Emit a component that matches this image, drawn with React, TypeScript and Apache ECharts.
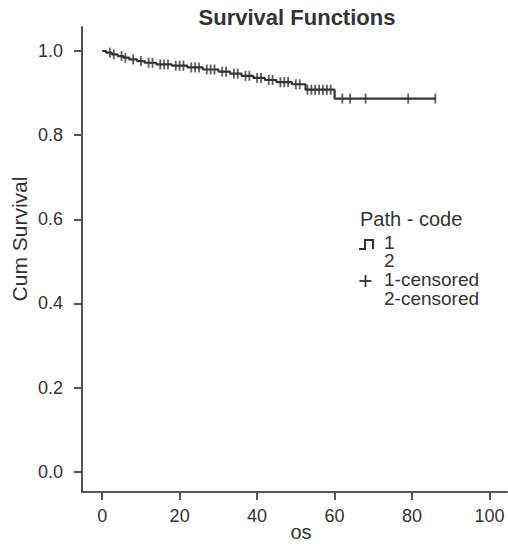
import React, { useEffect, useRef } from "react";
import * as echarts from "echarts";

const title = "Survival Functions";
const xName = "os";
const yName = "Cum Survival";
const xTicks = [0, 20, 40, 60, 80, 100];
const yTicks = [0, 0.2, 0.4, 0.6, 0.8, 1.0];

// Kaplan-Meier step points [time, cumulative survival]
const stepTimes = [0, 1, 2.5, 4, 5.5, 7, 9, 11, 14, 18, 22, 26, 30, 33, 36, 39, 42, 45, 49, 52.5, 60, 86];
const stepSurv = [1.0, 0.996, 0.992, 0.988, 0.984, 0.98, 0.976, 0.972, 0.968, 0.965, 0.961, 0.956, 0.951, 0.946, 0.941, 0.936, 0.931, 0.926, 0.921, 0.908, 0.887, 0.887];

// censored observations
const censorTimes = [2, 3, 5, 6, 8, 10, 12, 13, 15, 16, 17, 19, 20, 21, 23, 24, 25, 27, 28, 29, 31, 32, 34, 35, 37, 38, 40, 41, 43, 44, 46, 47, 48, 50, 51, 53, 54, 55, 56, 57, 58, 59, 62, 64, 68, 79, 86];

const legendTitle = "Path - code";
const legendItems = ["1", "2", "1-censored", "2-censored"];

function survAt(t: number): number {
  let s = stepSurv[0];
  for (let i = 0; i < stepTimes.length; i++) {
    if (stepTimes[i] <= t) s = stepSurv[i];
  }
  return s;
}

export default function App() {
  const ref = useRef<HTMLDivElement>(null);
  useEffect(() => {
    if (!ref.current) return;
    const chart = echarts.init(ref.current, undefined, { renderer: "svg" });
    const font = "Liberation Sans, Arial, sans-serif";
    const ink = "#333";
    const stepData = stepTimes.map((t, i) => [t, stepSurv[i]]);
    const censorData = censorTimes.map((t) => [t, survAt(t)]);
    const legendX = 384;
    const legendRows = [242, 260.5, 279.5, 298];
    chart.setOption({
      animation: false,
      backgroundColor: "#fff",
      grid: { left: 82, top: 27, right: 1, bottom: 52, containLabel: false, outerBoundsMode: "none" },
      xAxis: {
        type: "value",
        min: -5.2,
        max: 104.5,
        splitLine: { show: false },
        axisLine: { show: true, onZero: false, lineStyle: { color: "#555", width: 2 } },
        axisTick: { show: true, customValues: xTicks, length: 8, lineStyle: { color: "#555", width: 2 } },
        axisLabel: {
          customValues: xTicks,
          fontFamily: font,
          fontSize: 18,
          color: ink,
          margin: 15,
          formatter: (v: number) => String(Math.round(v)),
        },
      },
      yAxis: {
        type: "value",
        min: -0.048,
        max: 1.057,
        splitLine: { show: false },
        axisLine: { show: true, onZero: false, lineStyle: { color: "#555", width: 2 } },
        axisTick: { show: true, customValues: yTicks, length: 8, lineStyle: { color: "#555", width: 2 } },
        axisLabel: {
          customValues: yTicks,
          fontFamily: font,
          fontSize: 18,
          color: ink,
          margin: 19,
          formatter: (v: number) => v.toFixed(1),
        },
      },
      series: [
        {
          type: "line",
          step: "end",
          data: stepData,
          symbol: "none",
          lineStyle: { color: "#333", width: 2.2 },
          silent: true,
        },
        {
          type: "scatter",
          data: censorData,
          symbol: "rect",
          symbolSize: [1.8, 10],
          itemStyle: { color: "#333" },
          silent: true,
        },
      ],
      graphic: [
        {
          type: "text",
          x: 297,
          y: 17,
          style: {
            text: title,
            fontFamily: font,
            fontSize: 22,
            fontWeight: "bold",
            fill: ink,
            align: "center",
            verticalAlign: "middle",
          },
        },
        {
          type: "text",
          x: 19,
          y: 239,
          rotation: Math.PI / 2,
          style: {
            text: yName,
            fontFamily: font,
            fontSize: 21,
            fill: ink,
            align: "center",
            verticalAlign: "middle",
          },
        },
        {
          type: "text",
          x: 301,
          y: 532,
          style: {
            text: xName,
            fontFamily: font,
            fontSize: 20,
            fill: ink,
            align: "center",
            verticalAlign: "middle",
          },
        },
        {
          type: "text",
          x: 360,
          y: 219,
          style: {
            text: legendTitle,
            fontFamily: font,
            fontSize: 20,
            lineHeight: 18,
            fill: ink,
            verticalAlign: "middle",
          },
        },
        ...legendItems.map((s, i) => ({
          type: "text",
          x: legendX,
          y: legendRows[i],
          style: {
            text: s,
            fontFamily: font,
            fontSize: 19,
            lineHeight: 18,
            fill: ink,
            verticalAlign: "middle",
          },
        })),
        {
          type: "polyline",
          shape: { points: [[359, 249], [365, 249], [365, 240], [373, 240], [373, 249]] },
          style: { stroke: ink, lineWidth: 2, fill: "none" },
        },
        {
          type: "line",
          shape: { x1: 359.5, y1: 281, x2: 371.5, y2: 281 },
          style: { stroke: ink, lineWidth: 1.8 },
        },
        {
          type: "line",
          shape: { x1: 365.5, y1: 275, x2: 365.5, y2: 287 },
          style: { stroke: ink, lineWidth: 1.8 },
        },
      ],
    });
    return () => chart.dispose();
  }, []);
  return (
    <div
      ref={ref}
      style={{ position: "absolute", left: 0, top: 0, width: 508, height: 544 }}
    />
  );
}
